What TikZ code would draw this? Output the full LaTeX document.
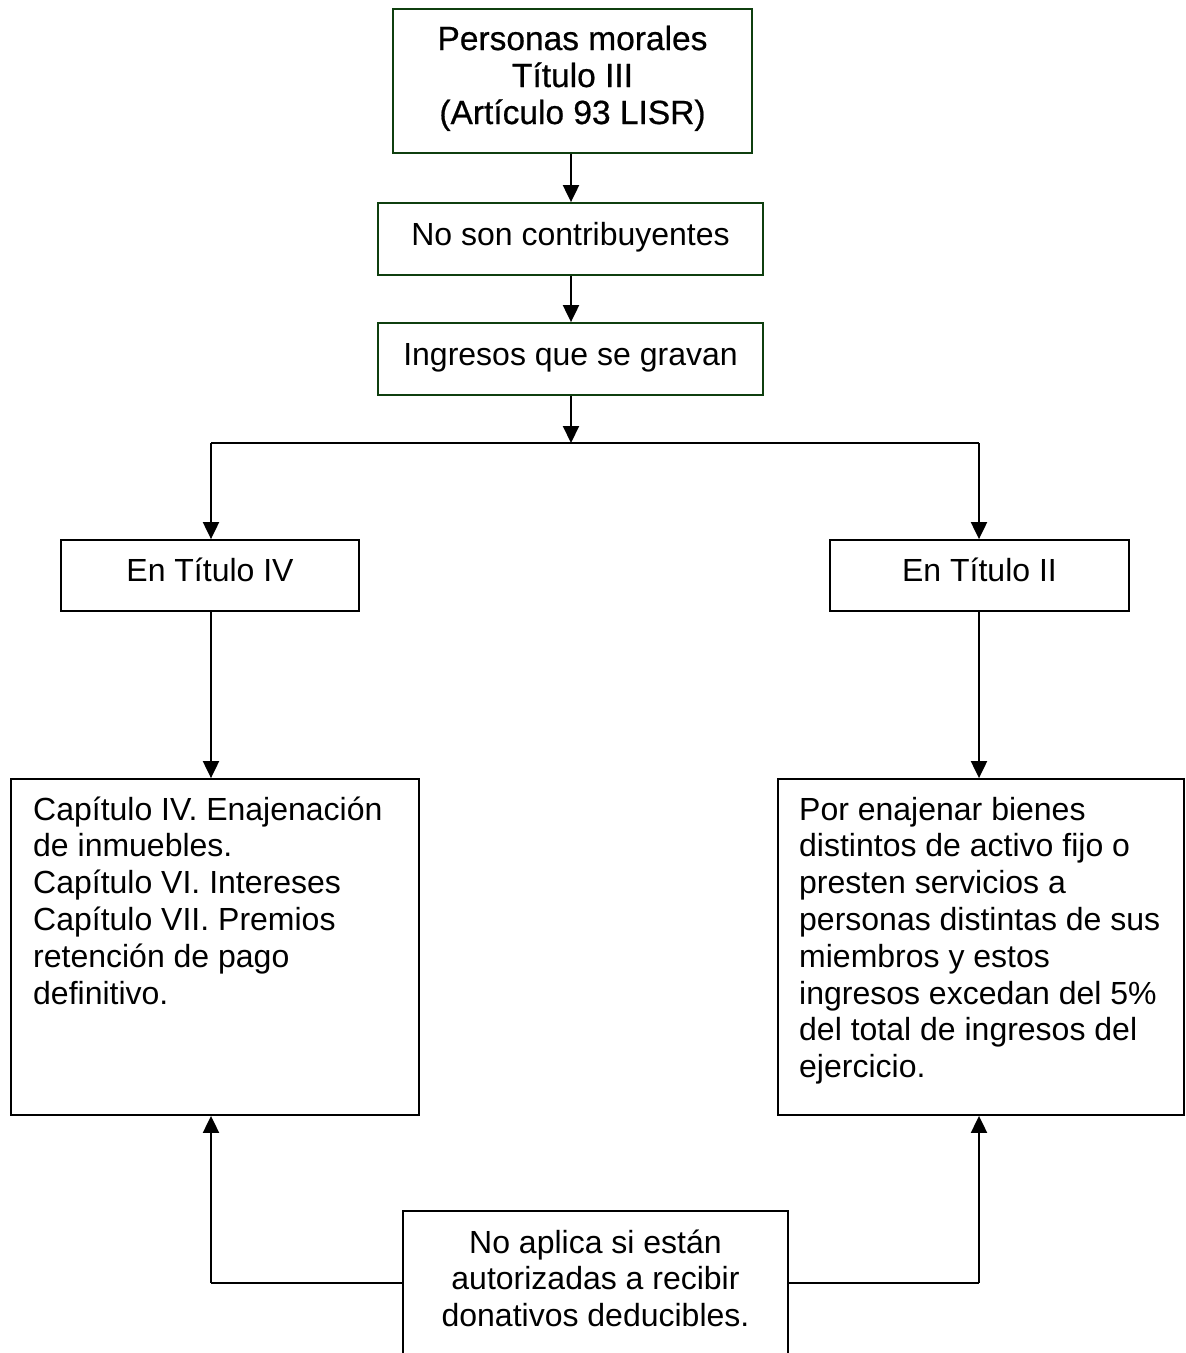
\documentclass[tikz,border=0pt]{standalone}
\usepackage{fontspec}
\setmainfont{Liberation Sans}
\newfontfamily\topfont[FakeBold=0.6]{Liberation Sans}
\usetikzlibrary{arrows.meta}
\definecolor{boxgreen}{HTML}{0F3F0F}
\tikzset{
  gbox/.style={draw=boxgreen, line width=1.8pt, inner sep=0pt, minimum width=#1},
  kbox/.style={draw=black, line width=1.8pt, inner sep=0pt, minimum width=#1},
  txt/.style={inner sep=0pt, font=\fontsize{32}{36.8}\selectfont},
  ttxt/.style={inner sep=0pt, font=\topfont\fontsize{33.5}{37}\selectfont},
  arr/.style={line width=2pt, -{Triangle[length=17pt,width=16pt]}},
  ln/.style={line width=2pt}
}
\begin{document}
\begin{tikzpicture}[x=1pt,y=-1pt]
\useasboundingbox (0,0) rectangle (1186,1353);
\fill[white] (0,0) rectangle (1186,1353);
\clip (0,0) rectangle (1186,1353);
% boxes
\node[gbox=359pt, minimum height=144pt] (top) at (572.5,81) {};
\node[gbox=385pt, minimum height=72pt] (b2) at (570.5,239) {};
\node[gbox=385pt, minimum height=72pt] (b3) at (570.5,359) {};
\node[kbox=298pt, minimum height=71pt] (t4) at (210,575.5) {};
\node[kbox=299pt, minimum height=71pt] (t2) at (979.5,575.5) {};
\node[kbox=408pt, minimum height=336pt] (L) at (215,947) {};
\node[kbox=406pt, minimum height=336pt] (R) at (981,947) {};
\node[kbox=385pt, minimum height=220pt] (bot) at (595.5,1321) {};
% texts (base anchor = baseline of the last line)
\node[ttxt, align=center, anchor=base] (toptxt) at (572.5,124) {Personas morales\\Título III\\(Artículo 93 LISR)};
\node[txt, anchor=base] (b2txt) at (570.5,245) {No son contribuyentes};
\node[txt, anchor=base] (b3txt) at (570.5,365) {Ingresos que se gravan};
\node[txt, anchor=base] (t4txt) at (210,581) {En Título IV};
\node[txt, anchor=base] (t2txt) at (979.5,581) {En Título II};
\node[txt, align=left, anchor=base west] (Ltxt) at (33,1004) {Capítulo IV. Enajenación\\de inmuebles.\\Capítulo VI. Intereses\\Capítulo VII. Premios\\retención de pago\\definitivo.};
\node[txt, align=left, anchor=base west] (Rtxt) at (799,1077.6) {Por enajenar bienes\\distintos de activo fijo o\\presten servicios a\\personas distintas de sus\\miembros y estos\\ingresos excedan del 5\%\\del total de ingresos del\\ejercicio.};
\node[txt, align=center, anchor=base] (bottxt) at (595.5,1326.6) {No aplica si están\\autorizadas a recibir\\donativos deducibles.};
% connectors
\coordinate (split) at (571,443);
\coordinate (sl) at (211,443);
\coordinate (sr) at (979,443);
\coordinate (cl) at (211,1283);
\coordinate (cr) at (979,1283);
\draw[arr] (top.south -| split) -- (b2.north -| split);
\draw[arr] (b2.south -| split) -- (b3.north -| split);
\draw[arr] (b3.south -| split) -- (split);
\draw[ln] (sl) -- (sr);
\draw[arr] (sl) -- (t4.north -| sl);
\draw[arr] (sr) -- (t2.north -| sr);
\draw[arr] (t4.south -| sl) -- (L.north -| sl);
\draw[arr] (t2.south -| sr) -- (R.north -| sr);
\draw[ln] (bot.west |- cl) -- (cl);
\draw[arr] (cl) -- (L.south -| cl);
\draw[ln] (bot.east |- cr) -- (cr);
\draw[arr] (cr) -- (R.south -| cr);
\end{tikzpicture}
\end{document}
